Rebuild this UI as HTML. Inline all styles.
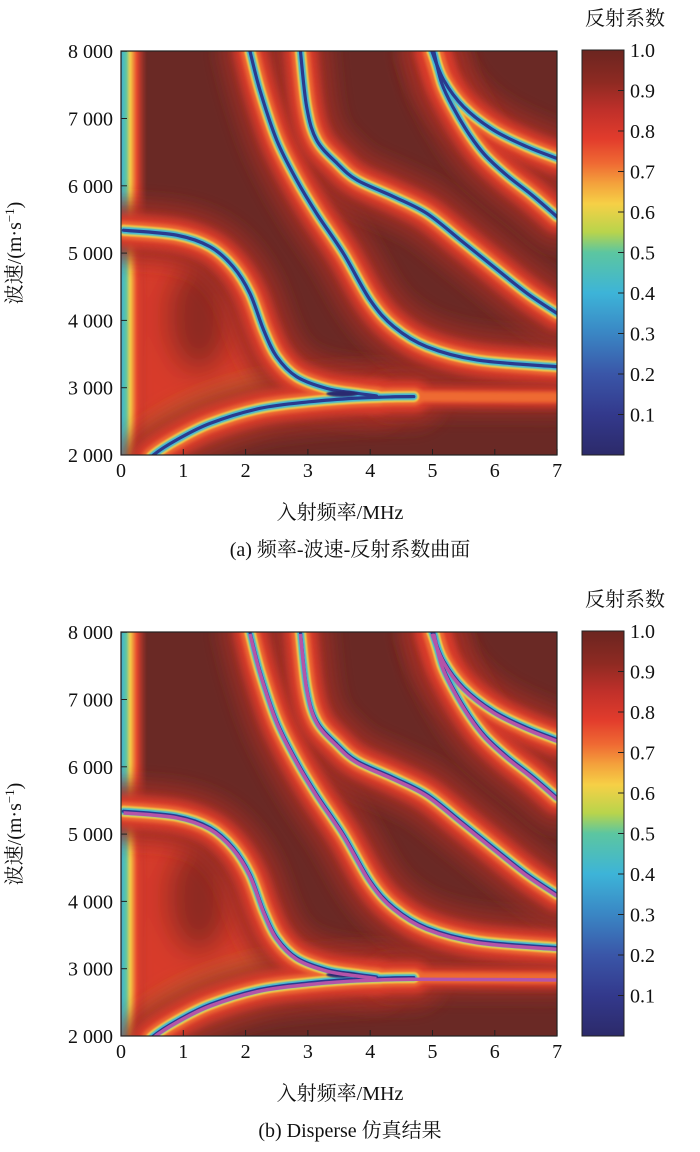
<!DOCTYPE html>
<html><head><meta charset="utf-8"><style>
body{margin:0;background:#fff;width:700px;height:1152px;overflow:hidden}
svg{display:block}
text{font-family:"Liberation Serif","Noto Serif CJK SC","Noto Sans CJK SC",serif;fill:#111}
</style></head><body>
<svg id="s" width="700" height="1152" viewBox="0 0 700 1152">
<defs>
<filter id="b10" filterUnits="userSpaceOnUse" x="0" y="0" width="700" height="1152"><feGaussianBlur stdDeviation="9"/></filter>
<filter id="b5" filterUnits="userSpaceOnUse" x="0" y="0" width="700" height="1152"><feGaussianBlur stdDeviation="4"/></filter>
<filter id="b2" filterUnits="userSpaceOnUse" x="0" y="0" width="700" height="1152"><feGaussianBlur stdDeviation="1.8"/></filter>
<filter id="b1" filterUnits="userSpaceOnUse" x="0" y="0" width="700" height="1152"><feGaussianBlur stdDeviation="0.8"/></filter>
<filter id="b14" filterUnits="userSpaceOnUse" x="0" y="0" width="700" height="1152"><feGaussianBlur stdDeviation="14"/></filter>
<clipPath id="cp0"><rect x="121" y="51" width="436" height="404"/></clipPath>
<clipPath id="cp1"><rect x="121" y="632" width="436" height="404"/></clipPath>
<linearGradient id="cbg" x1="0" y1="0" x2="0" y2="1">
<stop offset="0" stop-color="#6b2520"/><stop offset="0.08" stop-color="#8e2a22"/><stop offset="0.15" stop-color="#c0302a"/>
<stop offset="0.22" stop-color="#e23c2c"/><stop offset="0.28" stop-color="#ef6a33"/><stop offset="0.33" stop-color="#f4a23c"/>
<stop offset="0.38" stop-color="#f6d046"/><stop offset="0.45" stop-color="#b8d44c"/><stop offset="0.5" stop-color="#5cc6a0"/>
<stop offset="0.6" stop-color="#3db4d8"/><stop offset="0.7" stop-color="#3a86c4"/><stop offset="0.8" stop-color="#3a56a8"/>
<stop offset="0.9" stop-color="#33398c"/><stop offset="1" stop-color="#2c2a6a"/></linearGradient>
<linearGradient id="lg" x1="0" y1="0" x2="1" y2="0">
<stop offset="0" stop-color="#3db4d8"/><stop offset="0.2" stop-color="#5cc6a0"/><stop offset="0.35" stop-color="#f6d046"/><stop offset="0.6" stop-color="#e8482e"/><stop offset="1" stop-color="#c0302a" stop-opacity="0"/></linearGradient>
</defs>
</svg>
<script>
// Dispersion curve data: [frequency MHz], [velocity m/s]
const curveAf=[0.04,0.89,1.43,1.80,2.07,2.29,2.50,2.82,3.30,3.79,4.1];
const curveAv=[5340,5267,5094,4797,4401,3856,3460,3163,2990,2916,2878];
const tailF=[4.3,4.64,5.5,7.0];
const tailV=[2866,2870,2865,2858];
const lowF=[0.45,0.52,0.89,1.43,2.23,3.04,3.79,4.4,4.7];
const lowV=[1900,2000,2223,2470,2693,2792,2845,2865,2868];
const curveBf=[2.07,2.23,2.50,2.82,3.14,3.57,4.0,4.38,4.91,5.72,7.0];
const curveBv=[8000,7421,6678,6084,5589,4995,4302,3906,3609,3411,3312];
const curveCf=[2.88,2.98,3.14,3.47,3.79,4.38,4.91,5.45,5.98,6.52,7.0];
const curveCv=[8000,7173,6678,6332,6084,5837,5589,5193,4797,4401,4104];
const curveDf=[4.99,5.18,5.50,5.98,6.52,7.0];
const curveDv=[8000,7569,7173,6827,6579,6406];
const curveEf=[5.02,5.15,5.34,5.6,5.85,6.2,6.6,7.0];
const curveEv=[8000,7520,7150,6750,6450,6150,5860,5540];
const xTicks=[0,1,2,3,4,5,6,7];
const yTicks=[2000,3000,4000,5000,6000,7000,8000];
const yTickLabels=["2 000","3 000","4 000","5 000","6 000","7 000","8 000"];
const cbTicks=[0.1,0.2,0.3,0.4,0.5,0.6,0.7,0.8,0.9,1.0];
const cbLabels=["0.1","0.2","0.3","0.4","0.5","0.6","0.7","0.8","0.9","1.0"];

const NS="http://www.w3.org/2000/svg";
const svg=document.getElementById('s');
function mk(tag,attrs,parent){const e=document.createElementNS(NS,tag);for(const k in attrs)e.setAttribute(k,attrs[k]);(parent||svg).appendChild(e);return e;}
function pathD(fs,vs,X,Y){
  const p=fs.map((f,i)=>[X(f),Y(vs[i])]);
  let d="M"+p[0][0]+","+p[0][1];
  for(let i=0;i<p.length-1;i++){
    const p0=p[Math.max(0,i-1)],p1=p[i],p2=p[i+1],p3=p[Math.min(p.length-1,i+2)];
    const c1=[p1[0]+(p2[0]-p0[0])/6,p1[1]+(p2[1]-p0[1])/6];
    const c2=[p2[0]-(p3[0]-p1[0])/6,p2[1]-(p3[1]-p1[1])/6];
    d+=" C"+c1[0]+","+c1[1]+" "+c2[0]+","+c2[1]+" "+p2[0]+","+p2[1];
  }
  return d;
}
function plot(idx,top,pink){
  const X=f=>121+f*62.3;
  const Y=v=>top+404-(v-2000)*0.0673;
  const g=mk('g',{'clip-path':'url(#cp'+idx+')'});
  
  
  mk('rect',{x:121,y:top,width:436,height:404,fill:'#6a2925'},g);
  const haze=mk('g',{filter:'url(#b14)'},g);
  mk('polygon',{points:`${X(0)},${Y(5300)} ${X(1.0)},${Y(5230)} ${X(2.1)},${Y(4300)} ${X(2.5)},${Y(3200)} ${X(3.6)},${Y(2900)} ${X(2.5)},${Y(2700)} ${X(0.8)},${Y(2100)} ${X(0.3)},${Y(1950)} ${X(0)},${Y(1950)}`,fill:'#d83a2b'},haze);
  mk('ellipse',{cx:X(1.25),cy:Y(4050),rx:32,ry:55,fill:'#8e2a24'},haze);
  mk('polygon',{points:`${X(0.4)},${Y(2050)} ${X(0.9)},${Y(2250)} ${X(2.5)},${Y(2800)} ${X(3.2)},${Y(2920)} ${X(2.6)},${Y(3150)} ${X(1.0)},${Y(2600)} ${X(0.2)},${Y(2100)}`,fill:'#f0a03c'},haze);
  mk('rect',{x:121,y:top,width:26,height:404,fill:'url(#lg)',filter:'url(#b1)'},g);
  const curves=[[curveAf,curveAv],[lowF,lowV],[curveBf,curveBv],[curveCf,curveCv],[curveDf,curveDv],[curveEf,curveEv]];
  const layers=[[60,'#a02e27',0.85,'url(#b10)'],[32,'#d83a2c',1,'url(#b5)'],[18,'#ee6a32',1,'url(#b2)'],[11,'#f3cf46',1,'url(#b1)'],[7,'#3fb8d8',1,'url(#b1)'],[3.2,'#2a3a8e',1,'']];
  layers.forEach((L,li)=>{
    const list=li<3?curves.concat([[tailF,tailV]]):curves;
    list.forEach((c,ci)=>{
      let w=L[0]; if(ci===6) w=L[0]*0.6;
      const p=mk('path',{d:pathD(c[0],c[1],X,Y),fill:'none',stroke:L[1],'stroke-width':w,'stroke-opacity':L[2],'stroke-linecap':'round'},g);
      if(L[3])p.setAttribute('filter',L[3]);
      
      
    });
  });
  mk('ellipse',{cx:X(3.55),cy:Y(2910),rx:16,ry:3,fill:'#2a2a70',filter:'url(#b1)'},g);
  if(pink){
    curves.concat([[[4.6,5.5,7.0],[2868,2865,2858]]]).forEach((c,ci)=>{
      const p=mk('path',{d:pathD(c[0],c[1].map(v=>v-25),X,Y),fill:'none',stroke:'#b554a8','stroke-width':3.5},g);
      
      
    });
  }
  mk('rect',{x:121,y:top,width:436,height:404,fill:'none',stroke:'#222','stroke-width':1.2});
  xTicks.forEach(t=>{
    mk('line',{x1:X(t),x2:X(t),y1:top+404,y2:top+398,stroke:'#222','stroke-width':1});
    const tx=mk('text',{x:X(t),y:top+426,'text-anchor':'middle','font-size':20});
    tx.textContent=t;
    
    
  });
  yTicks.forEach((t,i)=>{
    mk('line',{x1:121,x2:127,y1:Y(t),y2:Y(t),stroke:'#222','stroke-width':1});
    const tx=mk('text',{x:113,y:Y(t)+7,'text-anchor':'end','font-size':20});
    tx.textContent=yTickLabels[i];
    
    
  });
  const yt=mk('text',{x:0,y:0,'text-anchor':'middle','font-size':20,transform:`translate(21,${top+202}) rotate(-90)`});
  yt.innerHTML='波速/(m·s<tspan dy="-7" font-size="13">−1</tspan><tspan dy="7">)</tspan>';
  
  
  const xt=mk('text',{x:340,y:top+468,'text-anchor':'middle','font-size':20});
  xt.textContent='入射频率/MHz';
  
  
  const cap=mk('text',{x:350,y:top+505,'text-anchor':'middle','font-size':20});
  cap.textContent=idx?'(b) Disperse 仿真结果':'(a) 频率-波速-反射系数曲面';
  
  
  const cbTop=top-1, cbH=405;
  const CY=v=>cbTop+cbH-v*cbH;
  const cb=mk('rect',{x:582,y:cbTop,width:42,height:cbH,fill:'url(#cbg)',stroke:'#222','stroke-width':1});
  
  
  cbTicks.forEach((t,i)=>{
    mk('line',{x1:618,x2:624,y1:CY(t),y2:CY(t),stroke:'#222','stroke-width':1});
    const tx=mk('text',{x:630,y:CY(t)+7,'font-size':20});
    tx.textContent=cbLabels[i];
    
    
  });
  const ct=mk('text',{x:585,y:top-26,'font-size':20});
  ct.textContent='反射系数';
  
  
}
plot(0,51,false);
plot(1,632,true);
</script>
</body></html>
